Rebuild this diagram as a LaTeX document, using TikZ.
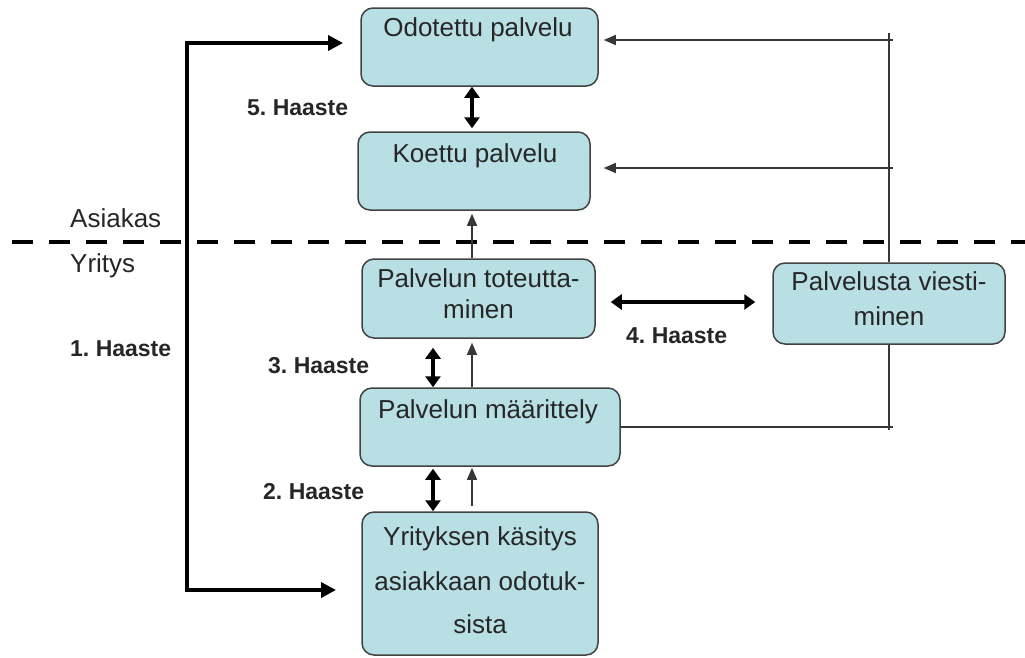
\documentclass[tikz,border=0pt]{standalone}
\usepackage{fontspec}
\setmainfont{Liberation Sans}
\usetikzlibrary{arrows.meta}
\definecolor{boxfill}{RGB}{184,223,227}
\definecolor{boxdraw}{RGB}{66,66,66}
\definecolor{thinc}{RGB}{55,55,55}
\frenchspacing
\begin{document}
\begin{tikzpicture}[x=1pt,y=-1pt,
  box/.style={draw=boxdraw, line width=1.5pt, fill=boxfill, rounded corners=12pt, inner sep=0pt},
  txt/.style={font=\fontsize{26}{30}\selectfont, anchor=base, inner sep=0pt, text=black!85},
  lbl/.style={font=\bfseries\fontsize{23}{27}\selectfont, anchor=base west, inner sep=0pt, text=black!85},
  side/.style={font=\fontsize{26}{30}\selectfont, anchor=base west, inner sep=0pt, text=black!85},
  bigline/.style={line width=3.5pt, line join=miter, {Triangle[length=15pt,width=15pt]}-{Triangle[length=15pt,width=15pt]}},
  dbl/.style={line width=4pt, {Triangle[length=11pt,width=15pt]}-{Triangle[length=11pt,width=15pt]}},
  thinarr/.style={draw=thinc, line width=1.4pt, -{Triangle[length=12pt,width=10pt]}},
  thinline/.style={draw=thinc, line width=1.4pt}
]
\useasboundingbox (0,0) rectangle (1025,657);

% boxes
\node[box, minimum width=237pt, minimum height=78pt] (odo) at (479.5,47) {};
\node[box, minimum width=232pt, minimum height=78pt] (koe) at (474,171) {};
\node[box, minimum width=233pt, minimum height=79pt] (tot) at (478.5,298.5) {};
\node[box, minimum width=232pt, minimum height=81pt] (vie) at (889,303.5) {};
\node[box, minimum width=260pt, minimum height=78pt] (maa) at (490,427) {};
\node[box, minimum width=236pt, minimum height=143pt] (yri) at (480,583.5) {};

% box texts
\node[txt] (odot) at (478,36) {Odotettu palvelu};
\node[txt] (koet) at (475,162) {Koettu palvelu};
\node[txt] (tot1) at (478.5,287) {Palvelun toteutta-};
\node[txt] (tot2) at (478.5,318) {minen};
\node[txt] (vie1) at (889,290) {Palvelusta viesti-};
\node[txt] (vie2) at (889,325) {minen};
\node[txt] (maat) at (488,418) {Palvelun määrittely};
\node[txt] (yri1) at (480,545) {Yrityksen käsitys};
\node[txt] (yri2) at (480,590) {asiakkaan odotuk-};
\node[txt] (yri3) at (480,633) {sista};

% side labels
\node[side] (asi) at (70,227) {Asiakas};
\node[side] (yrit) at (70,272) {Yritys};
\node[lbl] (h1) at (70,356) {1. Haaste};
\node[lbl] (h5) at (247,115) {5. Haaste};
\node[lbl] (h3) at (268,373) {3. Haaste};
\node[lbl] (h2) at (263,499) {2. Haaste};
\node[lbl] (h4) at (626,343) {4. Haaste};

% helper coordinates
\coordinate (c1) at (472,0);
\coordinate (c2) at (433,0);
\coordinate (c3) at (0,302);
\coordinate (ltip) at (343,43);
\coordinate (lt) at (187,43);
\coordinate (lb) at (187,590);
\coordinate (btip) at (336,590);
\coordinate (rt) at (889,33);
\coordinate (rb) at (889,430);
\coordinate (r1) at (893,40);
\coordinate (r2) at (893,168);
\coordinate (r3) at (893,427);
\coordinate (dl) at (12,241.5);
\coordinate (dr) at (1025,241.5);

% dashed boundary
\draw[line width=4pt, dash pattern=on 21pt off 16pt] (dl) -- (dr);

% left big connector
\draw[bigline] (ltip) -- (lt) -- (lb) -- (btip);

% vertical arrows
\draw[dbl] (odo.south -| c1) -- ([yshift=3pt]koe.north -| c1);
\draw[thinarr] (tot.north -| c1) -- ([yshift=-3pt]koe.south -| c1);
\draw[dbl] ([yshift=-9pt]tot.south -| c2) -- (maa.north -| c2);
\draw[thinarr] (maa.north -| c1) -- ([yshift=-4pt]tot.south -| c1);
\draw[dbl] ([yshift=-2pt]maa.south -| c2) -- (yri.north -| c2);
\draw[thinarr] ([yshift=5pt]yri.north -| c1) -- ([yshift=-1pt]maa.south -| c1);

% horizontal 4. Haaste
\draw[dbl] ([xshift=15pt]tot.east |- c3) -- ([xshift=-17pt]vie.west |- c3);

% right feedback lines
\draw[thinline] (rt) -- (vie.north -| rt);
\draw[thinline] (vie.south -| rt) -- (rb);
\draw[thinarr] (r1) -- ([xshift=5pt]odo.east |- r1);
\draw[thinarr] (r2) -- ([xshift=13pt]koe.east |- r2);
\draw[thinline] (maa.east |- r3) -- (r3);
\end{tikzpicture}
\end{document}
